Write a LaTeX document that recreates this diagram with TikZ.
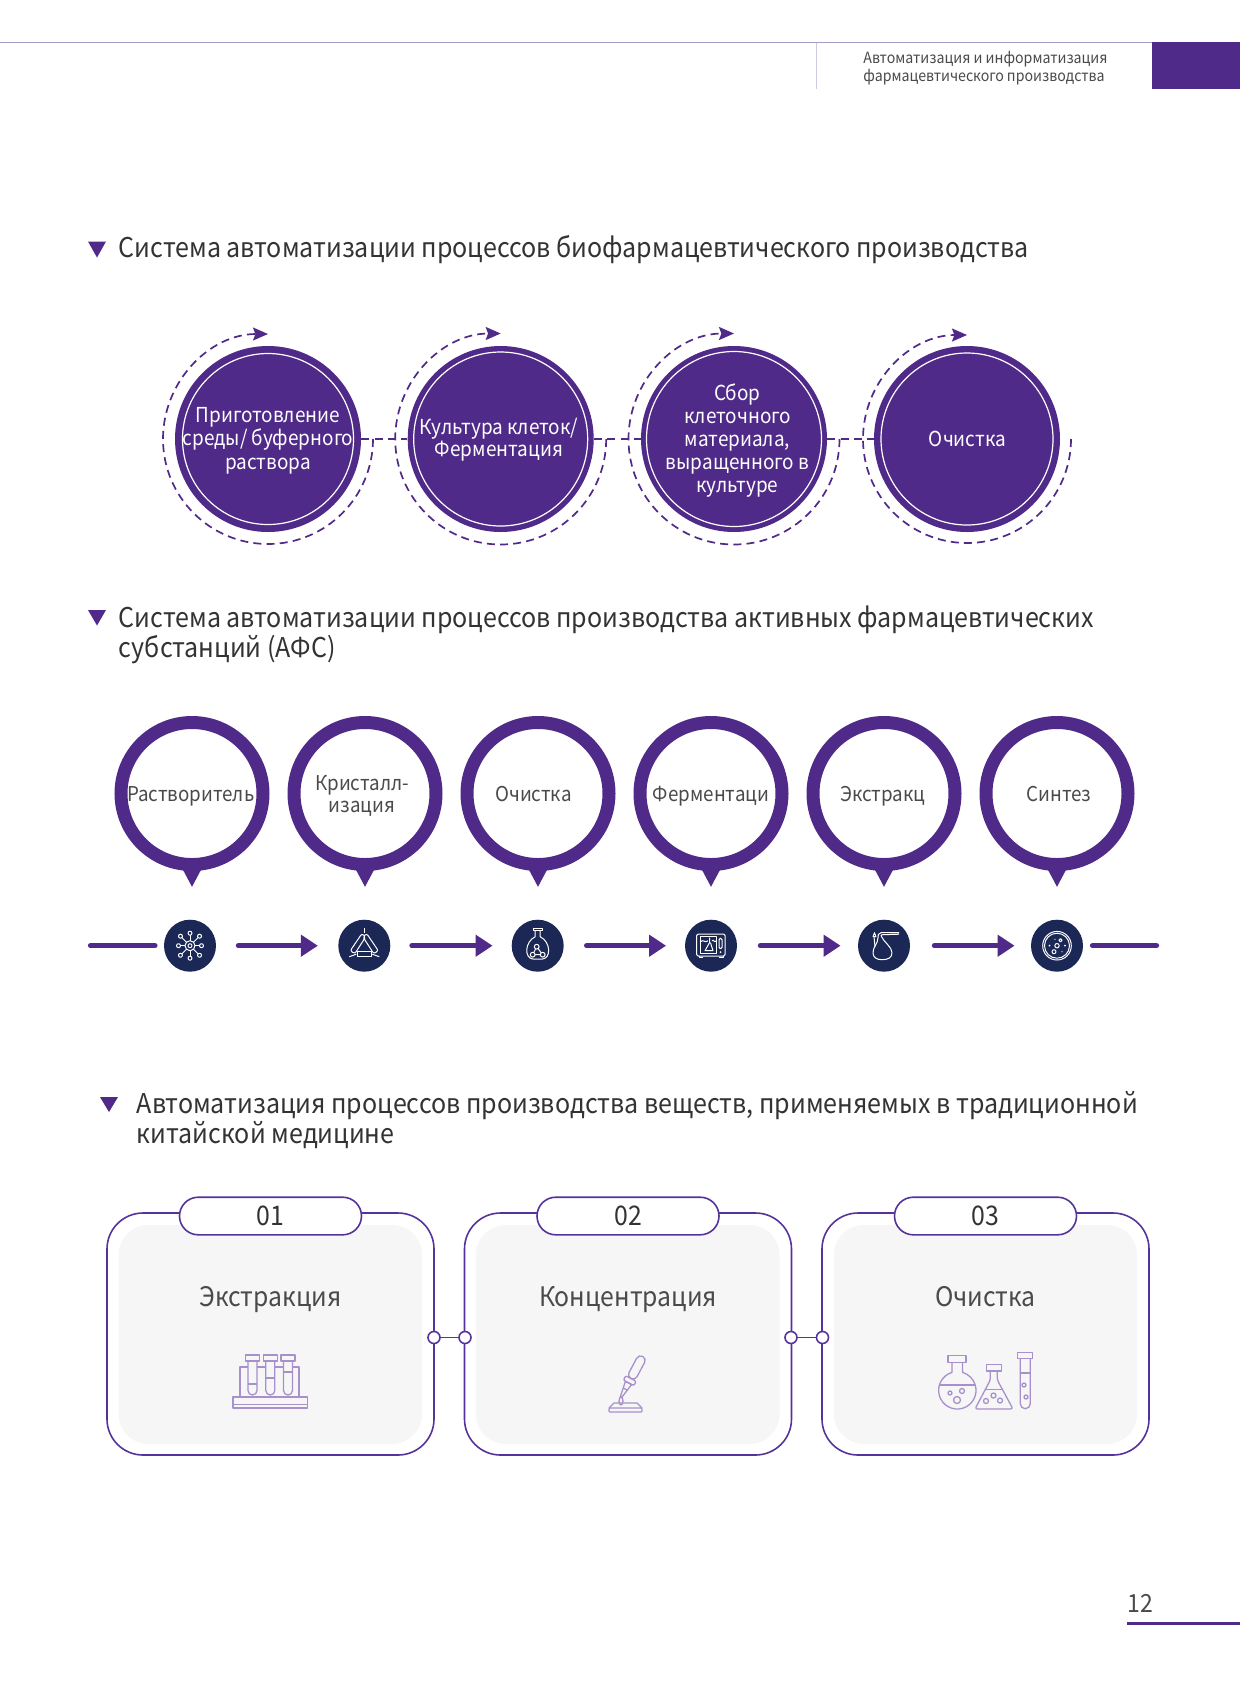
\documentclass[tikz,border=0pt]{standalone}
\usepackage{fontspec}
\setmainfont[FakeStretch=0.92]{Noto Sans CJK SC}
\usetikzlibrary{arrows.meta}
\definecolor{pur}{HTML}{502A88}
\definecolor{bord}{HTML}{56339A}
\definecolor{navy}{HTML}{1B2856}
\definecolor{panel}{HTML}{F6F6F6}
\definecolor{ink}{HTML}{333333}
\definecolor{soft}{HTML}{4A4A4A}
\definecolor{ico}{HTML}{A890CC}
\definecolor{hairline}{HTML}{A89CC4}
\definecolor{palev}{HTML}{D0C8E0}
\newcommand{\fs}[2]{\fontsize{#1}{#2}\selectfont}
\tikzset{
  x=0.5pt,y=-0.5pt,
  title/.style={anchor=base west,inner sep=0,align=left,text=ink,font=\fs{13.6}{15}},
  mark tri/.style={fill=pur},
  disc/.style={circle,fill=pur,inner sep=0,minimum size=93pt},
  discring/.style={draw=white,line width=0.6pt},
  disctext/.style={anchor=base,inner sep=0,align=center,text=white,font=\fs{10.3}{11.5}},
  dashflow/.style={draw=pur,line width=0.85pt,dash pattern=on 4pt off 2.6pt},
  orbit/.style={dashflow,-{Stealth[length=7.5pt,width=6.5pt,inset=1.2pt]}},
  pin/.style={circle,draw=pur,fill=white,line width=6.5pt,inner sep=0,minimum size=71pt},
  pintext/.style={anchor=base,inner sep=0,align=center,text=soft,font=\fs{10.2}{11}},
  hub/.style={circle,fill=navy,inner sep=0,minimum size=26pt},
  flow/.style={draw=pur,line width=2.6pt,line cap=round,-{Triangle[length=8.5pt,width=10.5pt]}},
  stub/.style={draw=pur,line width=2.6pt,line cap=round},
  wh/.style={draw=white,line width=0.5pt,line join=round},
  box/.style={draw=bord,line width=0.8pt,rounded corners=18pt,inner sep=0,minimum width=163.5pt,minimum height=121pt},
  pnl/.style={fill=panel,rounded corners=15pt},
  pill/.style={draw=bord,fill=white,line width=0.8pt,rounded corners=9.4pt,inner sep=0,minimum width=91pt,minimum height=18.8pt,text=ink,font=\fs{13.5}{14}},
  boxtext/.style={anchor=base,inner sep=0,text=soft,font=\fs{13.45}{14}},
  knot/.style={circle,draw=bord,fill=white,line width=0.8pt,inner sep=0,minimum size=6pt},
  ic/.style={draw=ico,line width=0.65pt,line join=round},
}
\begin{document}
\begin{tikzpicture}
\useasboundingbox (0,0) rectangle (1240,1683);
\fill[white] (0,0) rectangle (1240,1683);
% header
\draw[hairline,line width=0.5pt] (0,42.5) -- (1152,42.5);
\draw[palev,line width=0.6pt] (816.7,42.5) -- (816.7,88.5);
\fill[pur] (1152,42) rectangle (1240,88.7);
\node (hd1) [anchor=base west,inner sep=0,text=soft,font=\fs{7.7}{9}] at (863,63) {Автоматизация и информатизация};
\node (hd2) [anchor=base west,inner sep=0,text=soft,font=\fs{7.7}{9}] at (863,81) {фармацевтического производства};
% titles
\fill[mark tri] (88,241.5) -- (106,241.5) -- (97,257.5) -- cycle;
\node (t1) [title] at (118.5,257) {Система автоматизации процессов биофармацевтического производства};
\fill[mark tri] (88,610) -- (106,610) -- (97,625.5) -- cycle;
\node (t2a) [title] at (118.5,627.5) {Система автоматизации процессов производства активных фармацевтических};
\node (t2b) [title] at (118.5,657.5) {субстанций (АФС)};
\fill[mark tri] (100,1097) -- (118,1097) -- (109,1112) -- cycle;
\node (t3a) [title] at (136.5,1113.5) {Автоматизация процессов производства веществ, применяемых в традиционной};
\node (t3b) [title] at (136.5,1143.5) {китайской медицине};
% row 1
\foreach \n/\cx/\cy/\rr/\ri in {c1/268/439/105/85.5,c2/500.7/439/105.5/87,c3/734/439/105.5/87.5,c4/967/439/104/86}{
  \node (\n) [disc] at (\cx,\cy) {};
  \draw[discring] (\cx,\cy) circle[radius=\ri];
  \draw[orbit] (\cx,\cy) ++(\rr,0) arc[start angle=0,end angle=270,radius=\rr];
}
\draw[dashflow] (c1) -- (c2);
\draw[dashflow] (c2) -- (c3);
\draw[dashflow] (c3) -- (c4);
\node (c1a) [disctext] at (268,422.7) {Приготовление};
\node (c1b) [disctext] at (268,445.7) {среды/ буферного};
\node (c1c) [disctext] at (268,469) {раствора};
\node (c2a) [disctext] at (499,434) {Культура клеток/};
\node (c2b) [disctext] at (499,456.7) {Ферментация};
\node (c3a) [disctext] at (737.5,400) {Сбор};
\node (c3b) [disctext] at (737.5,423) {клеточного};
\node (c3c) [disctext] at (737.5,446) {материала,};
\node (c3d) [disctext] at (737.5,469) {выращенного в};
\node (c3e) [disctext] at (737.5,492) {культуре};
\node (c4a) [disctext] at (967.5,446) {Очистка};
% row 2 pins
\foreach \n/\cx in {p1/192,p2/365,p3/538,p4/711,p5/884,p6/1057}{
  \fill[pur] (\cx-10,868) -- (\cx+10,868) -- (\cx,886.8) -- cycle;
  \node (\n) [pin] at (\cx,793.5) {};
}
\node (p1t) [pintext] at (190.7,801) {Растворитель};
\node (p2a) [pintext] at (362,790) {Кристалл-};
\node (p2b) [pintext] at (362,812) {изация};
\node (p3t) [pintext] at (533.5,801) {Очистка};
\node (p4t) [pintext] at (711,801) {Ферментаци};
\node (p5t) [pintext] at (883,801) {Экстракц};
\node (p6t) [pintext] at (1059,801) {Синтез};
% row 2 hubs
\foreach \n/\cx in {n1/190,n2/364.3,n3/537.7,n4/711,n5/884,n6/1057}{
  \node (\n) [hub] at (\cx,945.7) {};
}
\coordinate (s0) at (90.5,945.7);
\coordinate (s1) at (155,945.7);
\coordinate (s2) at (1092.5,945.7);
\coordinate (s3) at (1156.5,945.7);
\draw[stub] (s0) -- (s1);
\draw[stub] (s2) -- (s3);
\draw[flow,shorten <=11pt,shorten >=10pt] (n1) -- (n2);
\draw[flow,shorten <=10.6pt,shorten >=9.35pt] (n2) -- (n3);
\draw[flow,shorten <=11.25pt,shorten >=9.25pt] (n3) -- (n4);
\draw[flow,shorten <=11.5pt,shorten >=8.5pt] (n4) -- (n5);
\draw[flow,shorten <=12pt,shorten >=8pt] (n5) -- (n6);
% hub icon 1: network
\begin{scope}[shift={(190,945.7)}]
  \draw[wh] (0,0) circle[radius=2]; \draw[wh] (0,0) circle[radius=5];
  \foreach \a/\r in {0/9.5,45/11.5,90/10.5,135/11.5,180/9.5,225/11.5,270/10.5,315/11.5}{
    \draw[wh] (\a:5) -- (\a:\r);
    \draw[wh] (\a:\r+2) circle[radius=2];
  }
\end{scope}
% hub icon 2: triangle of tools
\begin{scope}[shift={(364.3,945.7)}]
  \draw[wh,rounded corners=1pt] (-2.5,-12) -- (-14,5) -- (-9.5,8) -- (1.5,-9) -- cycle;
  \draw[wh,rounded corners=1pt] (2.5,-12) -- (14,5) -- (9.5,8) -- (-1.5,-9) -- cycle;
  \fill[navy] (-7,5.5) rectangle (7,11);
  \draw[wh] (-7,5.5) rectangle (7,11);
  \draw[wh] (0,-13) -- (0,-18);
  \draw[wh] (-15,11) -- (-8,8.5);
  \draw[wh] (15,11) -- (8,8.5);
\end{scope}
% hub icon 3: flask with molecule
\begin{scope}[shift={(537.7,945.7)}]
  \draw[wh] (-4.5,-17) -- (4.5,-17) -- (4.5,-15) -- (-4.5,-15) -- cycle;
  \draw[wh] (-2.5,-15) -- (-2.5,-9) .. controls (-13,-4) and (-14,13) .. (-4,13.5) -- (4,13.5) .. controls (14,13) and (13,-4) .. (2.5,-9) -- (2.5,-15);
  \draw[wh] (-1,1) -- (-5,9) -- (5,9) -- cycle;
  \fill[navy] (-1,1) circle[radius=2.4] (-5,9) circle[radius=2.4] (5,9) circle[radius=2.4];
  \draw[wh] (-1,1) circle[radius=2.4] (-5,9) circle[radius=2.4] (5,9) circle[radius=2.4];
\end{scope}
% hub icon 4: incubator
\begin{scope}[shift={(711,945.7)}]
  \draw[wh,rounded corners=0.7pt] (-14.3,-11.7) rectangle (14,10.3);
  \draw[wh] (-11,-9) rectangle (5.5,7.5);
  \draw[wh,rounded corners=0.7pt] (8,-7.5) rectangle (11,3);
  \fill[white] (9.5,6.5) circle[radius=1];
  \draw[wh] (-12,10.3) -- (-12,12) -- (-8,12);
  \draw[wh] (12,10.3) -- (12,12) -- (8,12);
  \draw[wh] (-1.5,-8) -- (-1.5,-3) -- (-6,5) -- (2,5) -- (-0.5,-3);
  \draw[wh] (-11,-4) .. controls (-7,-7) and (-6,-2) .. (-3,-5);
  \draw[wh] (1,-5) .. controls (3,-7) and (3,-2) .. (5.5,-5);
\end{scope}
% hub icon 5: retort
\begin{scope}[shift={(884,945.7)}]
  \draw[wh] (15,-13) -- (-3,-13) .. controls (-6,-13) and (-6,-10) .. (-6,-8) .. controls (-6,-2) and (-11,1) .. (-11,7) .. controls (-11,12) and (-7,14) .. (-2,14) .. controls (4,14) and (8,12) .. (8,7) .. controls (8,1) and (0,-3) .. (-3,-10) .. controls (-3,-11) and (-2,-11) .. (-1,-11) -- (15,-11.5);
  \draw[wh] (-10,-9) -- (-9,1);
  \draw[wh] (-11,-9) -- (-9.5,-13) -- (-8,-9) -- cycle;
\end{scope}
% hub icon 6: petri dish
\begin{scope}[shift={(1057,945.7)}]
  \draw[wh] (0,0) circle[radius=14.3]; \draw[wh] (0,0) circle[radius=12.5];
  \draw[wh] (0,0) circle[radius=2.2];
  \draw[wh] (3.5,-5.5) circle[radius=1.6];
  \draw[wh] (-3,6) circle[radius=2];
  \fill[white] (-7.5,0) circle[radius=1] (8,0) circle[radius=1] (-2,-6.5) circle[radius=0.7] (5,6) circle[radius=0.6];
\end{scope}
% row 3 panels
\node (b1) [box] at (270.5,1334) {};
\node (b2) [box] at (628,1334) {};
\node (b3) [box] at (985.5,1334) {};
\fill[pnl] (118.6,1225) rectangle (422,1444);
\fill[pnl] (476,1225) rectangle (779.5,1444);
\fill[pnl] (834,1225) rectangle (1137,1444);
\node (l1) [pill] at (270.5,1216) {01};
\node (l2) [pill] at (628,1216) {02};
\node (l3) [pill] at (985.5,1216) {03};
\node (k1) [knot] at (434,1337.5) {};
\node (k2) [knot] at (465,1337.5) {};
\node (k3) [knot] at (791,1337.5) {};
\node (k4) [knot] at (822.5,1337.5) {};
\draw[draw=bord,line width=0.8pt] (k1) -- (k2);
\draw[draw=bord,line width=0.8pt] (k3) -- (k4);
\node (x1) [boxtext] at (270.5,1306) {Экстракция};
\node (x2) [boxtext] at (628,1306) {Концентрация};
\node (x3) [boxtext] at (985.5,1306) {Очистка};
% test-tube rack
\draw[ic] (233,1397) rectangle (307.5,1408);
\draw[ic] (233,1404.5) -- (307.5,1404.5);
\draw[ic] (240,1397) -- (240,1367) -- (299,1367) -- (299,1397);
\foreach \t/\lev in {252.5/1384,270.3/1378,288/1372}{
  \fill[panel] (\t-4.5,1361) rectangle (\t+4.5,1392);
  \draw[ic] (\t-7,1355) rectangle (\t+7,1361);
  \draw[ic] (\t-4.5,1361) -- (\t-4.5,1390.5) arc[start angle=180,end angle=0,radius=4.5] -- (\t+4.5,1361);
  \draw[ic] (\t-4.5,\lev) -- (\t+4.5,\lev);
}
% dropper
\begin{scope}[shift={(621,1397)},rotate=-28.2]
  \draw[ic] (-0.8,0) -- (-3.5,-16) -- (3.5,-16) -- (0.8,0) -- cycle;
  \draw[ic] (-2.4,-9) -- (2.4,-9);
  \draw[ic,rounded corners=1pt] (-6,-16) rectangle (6,-21);
  \draw[ic,rounded corners=2.2pt] (-4.5,-21) rectangle (4.5,-46);
\end{scope}
\draw[ic] (621,1401) ellipse[x radius=2,y radius=4];
\draw[ic,rounded corners=0.5pt] (609,1408) rectangle (642,1412);
\draw[ic] (609,1408) -- (614,1403) -- (637,1403) -- (642,1408);
% round flask
\draw[ic] (948,1355.7) rectangle (966,1362.7);
\draw[ic] (952,1362.7) -- (952,1372.4) arc[start angle=253.5,end angle=-73.5,radius=18.7] -- (962.5,1362.7);
\draw[ic] (939,1385) -- (975,1385);
\draw[ic] (950,1393) circle[radius=2];
\draw[ic] (962,1391) circle[radius=2.5];
\draw[ic] (957,1400) circle[radius=3.5];
% conical flask
\draw[ic] (986.3,1364.7) rectangle (1001.3,1371);
\draw[ic,rounded corners=1.2pt] (990.3,1371) -- (990.3,1380) -- (975,1409) -- (1013,1409) -- (997.3,1380) -- (997.3,1371);
\draw[ic] (985,1389.7) -- (1003,1389.7);
\draw[ic] (986,1401) circle[radius=2.5];
\draw[ic] (993.5,1395.5) circle[radius=2.5];
\draw[ic] (1000,1400.5) circle[radius=2.5];
% test tube
\draw[ic] (1017.7,1352.7) rectangle (1032.7,1358.7);
\draw[ic] (1020.3,1358.7) -- (1020.3,1403.7) arc[start angle=180,end angle=0,radius=5] -- (1030.3,1358.7);
\draw[ic] (1020.3,1373) -- (1030.3,1373);
\draw[ic] (1024,1385) circle[radius=2];
\draw[ic] (1026,1397) circle[radius=2];
% page number
\node (pg) [anchor=base west,inner sep=0,text=soft,font=\fs{12.5}{13}] at (1127,1612.5) {12};
\draw[pur,line width=1.4pt] (1127,1623.5) -- (1240,1623.5);
\end{tikzpicture}
\end{document}
